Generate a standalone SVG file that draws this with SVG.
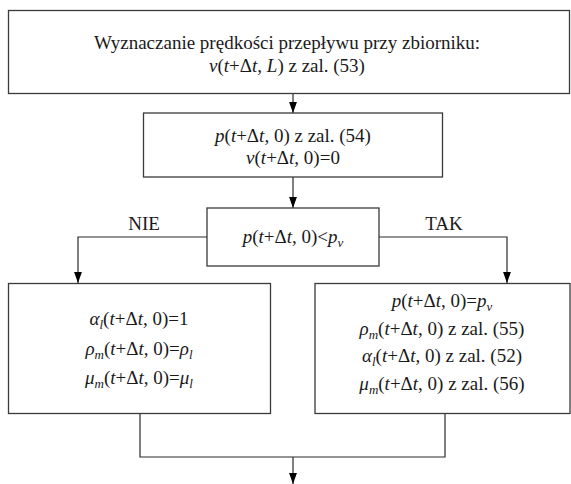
<svg xmlns="http://www.w3.org/2000/svg" width="571" height="484" viewBox="0 0 571 484">
  <style>
    .box { fill: #ffffff; stroke: #3a3a3a; stroke-width: 1.3; }
    .wire { fill: none; stroke: #2a2a2a; stroke-width: 1.2; }
    text { font-family: "Liberation Serif", "Times New Roman", serif; font-size: 19px; fill: #1a1a1a; text-anchor: middle; }
    .i { font-style: italic; }
    .s { font-style: italic; font-size: 13px; }
  </style>
  <defs>
    <marker id="arrow" markerUnits="userSpaceOnUse" markerWidth="11" markerHeight="15" refX="14" refY="5" orient="auto" viewBox="0 0 14 10">
      <path d="M0,0 L14,5 L0,10 z" fill="#000000"/>
    </marker>
  </defs>
  <rect width="571" height="484" fill="#ffffff"/>

  <g id="connectors">
    <line class="wire" x1="293" y1="94" x2="293" y2="113" marker-end="url(#arrow)"/>
    <line class="wire" x1="293" y1="177" x2="293" y2="208" marker-end="url(#arrow)"/>
    <polyline class="wire" points="207,237 78,237 78,283" marker-end="url(#arrow)"/>
    <polyline class="wire" points="379,237 507,237 507,283" marker-end="url(#arrow)"/>
    <polyline class="wire" points="140,413 140,457 445,457 445,413"/>
    <line class="wire" x1="293" y1="457" x2="293" y2="484" marker-end="url(#arrow)"/>
    <text x="144" y="230">NIE</text>
    <text x="444" y="230">TAK</text>
  </g>

  <g id="n-start">
    <rect class="box" x="8.5" y="10.5" width="561" height="83"/>
    <text x="287" y="49">Wyznaczanie prędkości przepływu przy zbiorniku:</text>
    <text x="287" y="72"><tspan class="i">v</tspan>(<tspan class="i">t</tspan>+Δ<tspan class="i">t</tspan>, <tspan class="i">L</tspan>) z zal. (53)</text>
  </g>

  <g id="n-pressure">
    <rect class="box" x="143.5" y="113" width="299" height="64"/>
    <text x="293" y="142"><tspan class="i">p</tspan>(<tspan class="i">t</tspan>+Δ<tspan class="i">t</tspan>, 0) z zal. (54)</text>
    <text x="293" y="164"><tspan class="i">v</tspan>(<tspan class="i">t</tspan>+Δ<tspan class="i">t</tspan>, 0)=0</text>
  </g>

  <g id="n-decision">
    <rect class="box" x="207" y="208" width="172" height="58"/>
    <text x="293" y="243"><tspan class="i">p</tspan>(<tspan class="i">t</tspan>+Δ<tspan class="i">t</tspan>, 0)&lt;<tspan class="i">p</tspan><tspan class="s" dy="4">v</tspan></text>
  </g>

  <g id="n-liquid">
    <rect class="box" x="8.5" y="283.5" width="262" height="130"/>
    <text x="139" y="325"><tspan class="i">α</tspan><tspan class="s" dy="4">l</tspan><tspan dy="-4">(</tspan><tspan class="i">t</tspan>+Δ<tspan class="i">t</tspan>, 0)=1</text>
    <text x="139" y="355"><tspan class="i">ρ</tspan><tspan class="s" dy="4">m</tspan><tspan dy="-4">(</tspan><tspan class="i">t</tspan>+Δ<tspan class="i">t</tspan>, 0)=<tspan class="i">ρ</tspan><tspan class="s" dy="4">l</tspan></text>
    <text x="139" y="384"><tspan class="i">μ</tspan><tspan class="s" dy="4">m</tspan><tspan dy="-4">(</tspan><tspan class="i">t</tspan>+Δ<tspan class="i">t</tspan>, 0)=<tspan class="i">μ</tspan><tspan class="s" dy="4">l</tspan></text>
  </g>

  <g id="n-cavitation">
    <rect class="box" x="315" y="283.5" width="255" height="130"/>
    <text x="442" y="307"><tspan class="i">p</tspan>(<tspan class="i">t</tspan>+Δ<tspan class="i">t</tspan>, 0)=<tspan class="i">p</tspan><tspan class="s" dy="4">v</tspan></text>
    <text x="442" y="335"><tspan class="i">ρ</tspan><tspan class="s" dy="4">m</tspan><tspan dy="-4">(</tspan><tspan class="i">t</tspan>+Δ<tspan class="i">t</tspan>, 0) z zal. (55)</text>
    <text x="442" y="362"><tspan class="i">α</tspan><tspan class="s" dy="4">l</tspan><tspan dy="-4">(</tspan><tspan class="i">t</tspan>+Δ<tspan class="i">t</tspan>, 0) z zal. (52)</text>
    <text x="442" y="390"><tspan class="i">μ</tspan><tspan class="s" dy="4">m</tspan><tspan dy="-4">(</tspan><tspan class="i">t</tspan>+Δ<tspan class="i">t</tspan>, 0) z zal. (56)</text>
  </g>
</svg>
